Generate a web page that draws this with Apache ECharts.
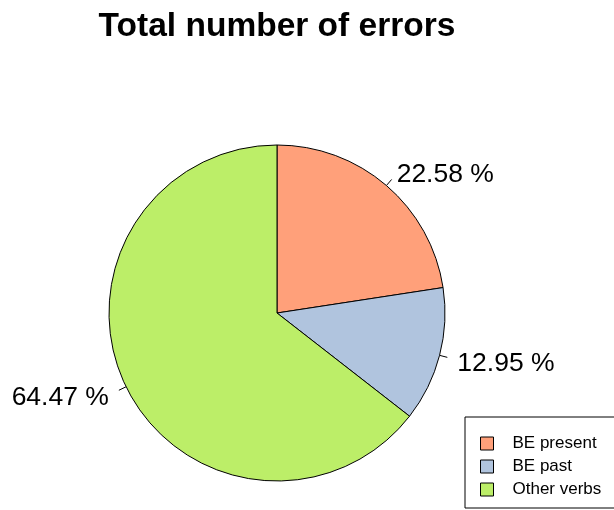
<!DOCTYPE html>
<html><head><meta charset="utf-8">
<script src="https://cdn.jsdelivr.net/npm/echarts@6/dist/echarts.min.js"></script>
<style>html,body{margin:0;padding:0;background:#fff}#c{width:614px;height:510px}</style>
</head><body><div id="c"></div>
<script>
const categories = ["BE present", "BE past", "Other verbs"];
const values = [22.58, 12.95, 64.47];
const colors = ["#FFA07A", "#B0C4DE", "#BCEE68"];
const titleText = "Total number of errors";

// per-slice label nudges (R places labels at 1.1 r)
const labelDy = [-5, 6, 7.5];
const labelDist = [5, 10, 10];

const chart = echarts.init(document.getElementById('c'), null, {renderer: 'canvas'});
chart.setOption({
  animation: false,
  backgroundColor: '#fff',
  title: {
    text: titleText, left: 272, top: 5, textAlign: 'center',
    textStyle: {fontFamily: 'Liberation Sans, Arial', fontWeight: 'bold', fontSize: 33.5, color: '#000'}
  },
  legend: {
    orient: 'vertical', left: 465, top: 417,
    borderColor: '#000', borderWidth: 1, padding: [18, 20, 10, 15],
    itemWidth: 13, itemHeight: 13, itemGap: 6, icon: 'rect',
    itemStyle: {borderColor: '#000', borderWidth: 1},
    textStyle: {fontFamily: 'Liberation Sans, Arial', fontSize: 17, lineHeight: 17, color: '#000', padding: [0, 0, 0, 14]},
    data: categories
  },
  series: [{
    type: 'pie', center: [277, 313], radius: [0, 168],
    startAngle: 90, clockwise: true, avoidLabelOverlap: false,
    itemStyle: {borderColor: '#000', borderWidth: 1},
    label: {
      show: true, position: 'outside', distanceToLabelLine: 5,
      formatter: p => p.value.toFixed(2) + ' %',
      fontFamily: 'Liberation Sans, Arial', fontSize: 26.5, color: '#000'
    },
    labelLine: {show: true, length: 8, length2: 0, lineStyle: {color: '#000', width: 1}},
    labelLayout: p => ({dy: labelDy[p.dataIndex]}),
    emphasis: {disabled: true},
    data: categories.map((c, i) => ({
      name: c, value: values[i], itemStyle: {color: colors[i]},
      label: {distanceToLabelLine: labelDist[i]}
    }))
  }]
});
</script></body></html>
